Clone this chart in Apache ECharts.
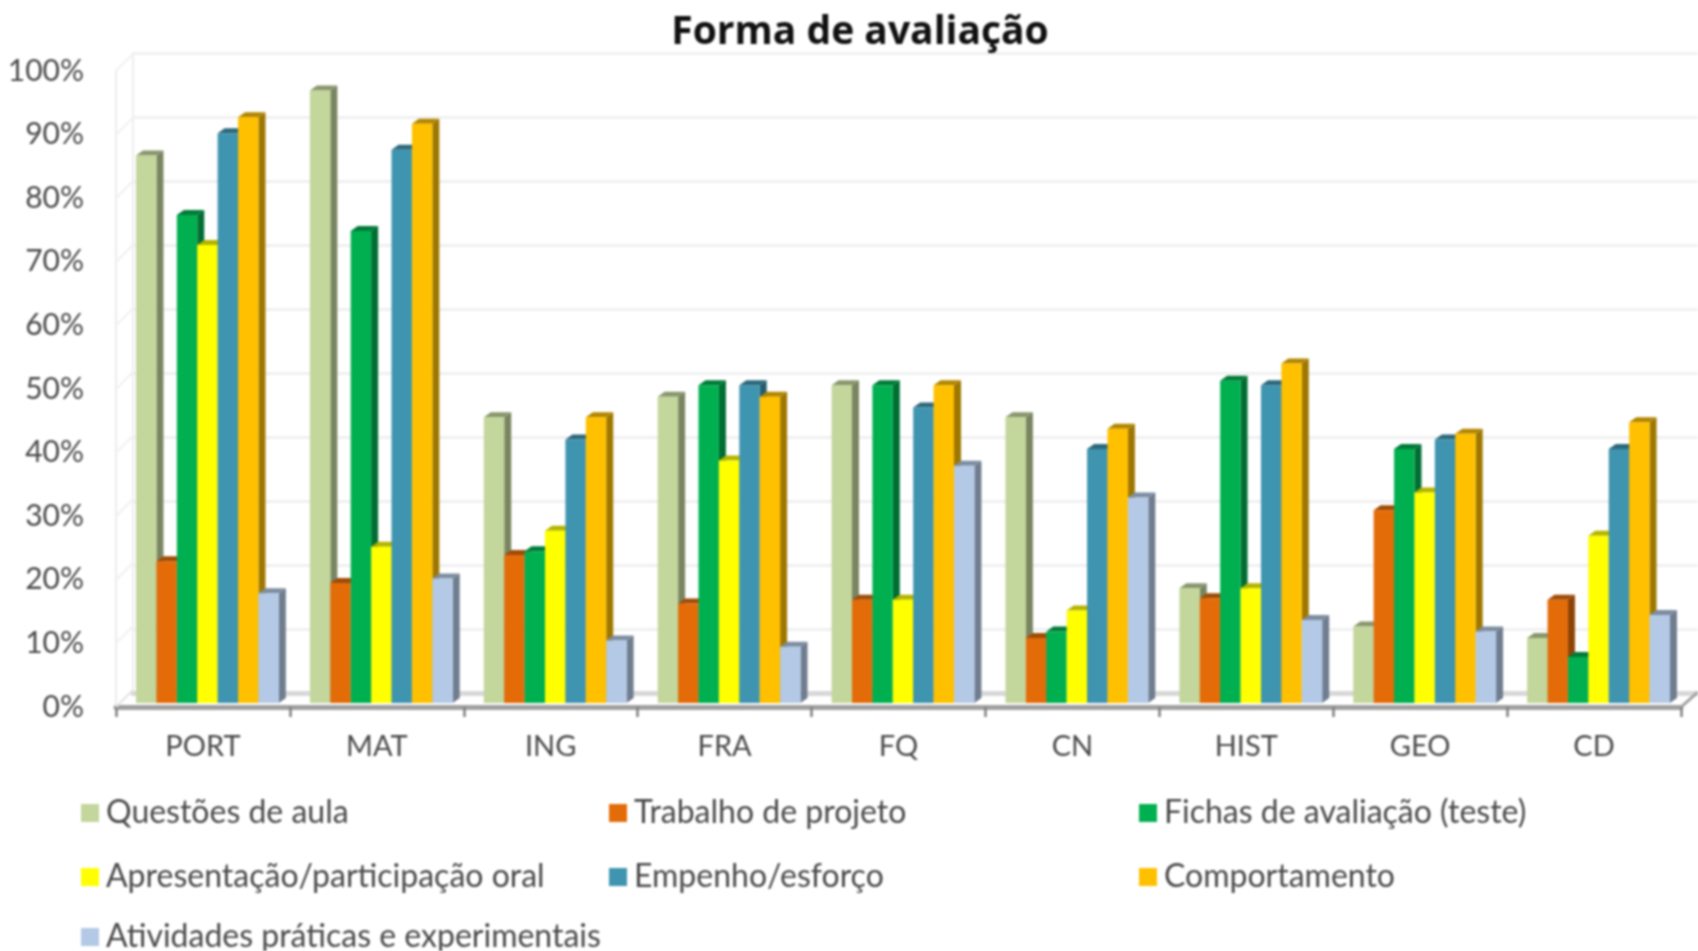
<!DOCTYPE html>
<html>
<head>
<meta charset="utf-8">
<style>
  html, body { margin: 0; padding: 0; background: #fff; overflow: hidden; }
  #chart { width: 1698px; height: 951px; filter: blur(0.8px); }
</style>
<script src="https://cdn.jsdelivr.net/npm/echarts@6/dist/echarts.min.js"></script>
</head>
<body>
<div id="chart"></div>
<script>
var categories = ['PORT', 'MAT', 'ING', 'FRA', 'FQ', 'CN', 'HIST', 'GEO', 'CD'];
var questoes = [85.8, 96, 44.8, 48, 49.8, 44.8, 18, 12, 10.2];
var trabalho = [22.2, 18.8, 23.2, 15.6, 16.2, 10.2, 16.4, 30.2, 16.2];
var fichas = [76.5, 74, 23.8, 49.8, 49.8, 11.2, 50.5, 39.8, 7.2];
var apresentacao = [71.8, 24.5, 27, 38, 16.2, 14.5, 18, 33, 26.2];
var empenho = [89.3, 86.7, 41.3, 49.8, 46.3, 39.8, 49.8, 41.3, 39.8];
var comportamento = [91.8, 90.8, 44.8, 48, 49.8, 43, 53.2, 42.2, 44];
var atividades = [17.2, 19.5, 9.8, 8.8, 37.2, 32.2, 13, 11.2, 13.8];
var wallTicks = [0, 10, 20, 30, 40, 50, 60, 70, 80, 90, 100];

var seriesInfo = [
    { name: 'Questões de aula', data: questoes, color: '#C3D69B' },
    { name: 'Trabalho de projeto', data: trabalho, color: '#E36C09' },
    { name: 'Fichas de avaliação (teste)', data: fichas, color: '#00B050' },
    { name: 'Apresentação/participação oral', data: apresentacao, color: '#FFFF00' },
    { name: 'Empenho/esforço', data: empenho, color: '#3F94B0' },
    { name: 'Comportamento', data: comportamento, color: '#FFC000' },
    { name: 'Atividades práticas e experimentais', data: atividades, color: '#B3C9E6' }
];

var fontName = 'Lato, "Open Sans", sans-serif';
var textColor = '#4a4a4a';
var barW = 20.4;
var depthX = 7;
var depthY = 5;

// darker tone for the side and top faces
function shade(color, k) {
    var c = echarts.color.parse(color);
    return 'rgb(' + Math.round(c[0] * k) + ',' + Math.round(c[1] * k) + ',' + Math.round(c[2] * k) + ')';
}

function renderBar(idx, color) {
    return function (params, api) {
        var top = api.coord([api.value(0), api.value(1)]);
        var base = api.coord([api.value(0), 0]);
        var x = top[0] + 4.5 + (idx - 3.5) * barW;
        var y = top[1];
        var x2 = x + barW;
        return {
            type: 'group',
            children: [
                { type: 'polygon', shape: { points: [[x2, y], [x2 + depthX, y - depthY], [x2 + depthX, base[1] - depthY], [x2, base[1]]] },
                  style: { fill: shade(color, 0.62) } },
                { type: 'polygon', shape: { points: [[x, y], [x + depthX, y - depthY], [x2 + depthX, y - depthY], [x2, y]] },
                  style: { fill: shade(color, 0.7) } },
                { type: 'rect', shape: { x: x, y: y, width: barW, height: base[1] - y }, style: { fill: color } }
            ]
        };
    };
}

// diagonals joining the front edge of the left wall with the back wall
function renderWallTick(params, api) {
    var p = api.coord([0, api.value(0)]);
    var left = params.coordSys.x;
    return {
        type: 'line',
        shape: { x1: left, y1: p[1], x2: left + 17, y2: p[1] - 17 },
        style: { stroke: api.value(0) === 0 ? '#e4e4e4' : '#f0f0f0', lineWidth: 2 }
    };
}

function renderFloorEdge(params, api) {
    var p = api.coord([0, 0]);
    var right = params.coordSys.x + params.coordSys.width;
    return {
        type: 'line',
        shape: { x1: right, y1: p[1], x2: right + 17, y2: p[1] - 15 },
        style: { stroke: '#a0a0a0', lineWidth: 3 }
    };
}

var series = [
    { type: 'custom', name: 'wall', xAxisIndex: 1, yAxisIndex: 1, silent: true, z: 1,
      data: wallTicks.map(function (v) { return [v]; }), renderItem: renderWallTick, encode: { y: 0 } },
    { type: 'custom', name: 'floor', xAxisIndex: 1, yAxisIndex: 1, silent: true, z: 1,
      data: [[0]], renderItem: renderFloorEdge, encode: { y: 0 } }
];
seriesInfo.forEach(function (s, i) {
    series.push({
        type: 'custom',
        name: s.name,
        xAxisIndex: 2,
        yAxisIndex: 2,
        z: 3,
        itemStyle: { color: s.color },
        data: s.data.map(function (v, c) { return [c, v]; }),
        encode: { x: 0, y: 1 },
        renderItem: renderBar(i, s.color)
    });
});

function legendCol(left, top, names) {
    return {
        left: left, top: top, padding: 0, orient: 'vertical',
        data: names, icon: 'rect',
        itemWidth: 18, itemHeight: 18, itemGap: 32,
        selectedMode: false,
        textStyle: { fontFamily: fontName, fontSize: 32, lineHeight: 30, color: textColor, padding: [0, 0, 0, 2] }
    };
}

var chart = echarts.init(document.getElementById('chart'));
chart.setOption({
    animation: false,
    backgroundColor: '#fff',
    title: {
        text: 'Forma de avaliação',
        left: 855, top: 8, textAlign: 'center',
        textStyle: { fontFamily: '"Open Sans", sans-serif', fontSize: 39, fontWeight: 'bold', color: '#111' }
    },
    legend: [
        legendCol(81, 797, ['Questões de aula', 'Apresentação/participação oral']),
        legendCol(81, 921, ['Atividades práticas e experimentais']),
        legendCol(609, 797, ['Trabalho de projeto', 'Empenho/esforço']),
        legendCol(1139, 797, ['Fichas de avaliação (teste)', 'Comportamento'])
    ],
    grid: [
        { left: 133, top: 53, width: 1565, height: 640 },   // back wall
        { left: 116, top: 71, width: 1565, height: 636 },   // front plane with the labels
        { left: 116, top: 65, width: 1565, height: 638 }    // bars
    ],
    xAxis: [
        { type: 'category', gridIndex: 0, data: categories,
          axisLabel: { show: false }, axisTick: { show: false },
          axisLine: { lineStyle: { color: '#d8d8d8', width: 5 } } },
        { type: 'category', gridIndex: 1, data: categories,
          axisLine: { lineStyle: { color: '#a0a0a0', width: 5 } },
          axisTick: { show: true, length: 10, lineStyle: { color: '#808080', width: 2.5 } },
          axisLabel: { fontFamily: fontName, fontSize: 29, color: textColor, margin: 25 } },
        { type: 'category', gridIndex: 2, data: categories, show: false }
    ],
    yAxis: [
        { type: 'value', gridIndex: 0, min: 0, max: 100, interval: 10,
          axisLabel: { show: false }, axisTick: { show: false },
          axisLine: { show: true, lineStyle: { color: '#eeeeee', width: 2 } },
          splitLine: { show: true, lineStyle: { color: '#eeeeee', width: 2.5 } } },
        { type: 'value', gridIndex: 1, min: 0, max: 100, interval: 10,
          axisTick: { show: false }, splitLine: { show: false },
          axisLine: { show: true, lineStyle: { color: '#ececec', width: 2 } },
          axisLabel: { fontFamily: fontName, fontSize: 30, color: textColor, margin: 32, formatter: '{value}%' } },
        { type: 'value', gridIndex: 2, min: 0, max: 100, show: false, splitLine: { show: false } }
    ],
    series: series
});
</script>
</body>
</html>
